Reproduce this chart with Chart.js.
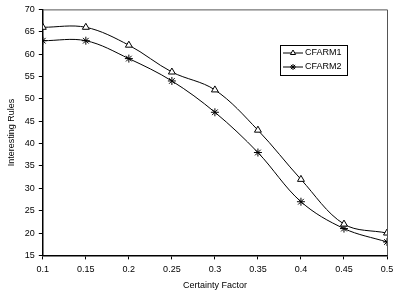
<!DOCTYPE html>
<html>
<head>
<meta charset="utf-8">
<script src="https://cdn.jsdelivr.net/npm/chart.js@4/dist/chart.umd.min.js"></script>
<style>
  html, body { margin: 0; padding: 0; background: #fff; }
  #wrap { width: 393px; height: 297px; }
</style>
</head>
<body>
<div id="wrap"><canvas id="grafico"></canvas></div>
<script>
const certainty = [0.1, 0.15, 0.2, 0.25, 0.3, 0.35, 0.4, 0.45, 0.5];
const cfarm1 = [66, 66, 62, 56, 52, 43, 32, 22, 20];
const cfarm2 = [63, 63, 59, 54, 47, 38, 27, 21, 18];

const ctx = document.getElementById('grafico');

// frame around plot area (top/right) and boxed legend
const moldura = {
    id: 'moldura',
    afterDraw(chart) {
        const c = chart.ctx;
        const a = chart.chartArea;
        c.save();
        c.strokeStyle = '#555';
        c.lineWidth = 1;
        c.beginPath();
        c.moveTo(a.left, a.top + 0.5);
        c.lineTo(a.right + 0.5, a.top + 0.5);
        c.lineTo(a.right + 0.5, a.bottom);
        c.stroke();

        // legend
        const lx = 280, ly = 45, lw = 67, lh = 30;
        c.fillStyle = '#fff';
        c.fillRect(lx, ly, lw, lh);
        c.strokeStyle = '#000';
        c.strokeRect(lx + 0.5, ly + 0.5, lw, lh);
        c.font = '9px "Liberation Sans", Arial, sans-serif';
        c.textBaseline = 'middle';
        chart.data.datasets.forEach((ds, i) => {
            const y = ly + 8 + i * 14;
            c.strokeStyle = '#000';
            c.beginPath();
            c.moveTo(lx + 3, y);
            c.lineTo(lx + 23, y);
            c.stroke();
            Chart.helpers.drawPoint(c, {
                pointStyle: ds.pointStyle,
                radius: 3,
                borderWidth: 1
            }, lx + 13, y);
            c.fillStyle = '#000';
            c.fillText(ds.label, lx + 25, y);
        });
        c.restore();
    }
};

new Chart(ctx, {
    type: 'line',
    data: {
        datasets: [{
            label: 'CFARM1',
            data: certainty.map((x, i) => ({ x: x, y: cfarm1[i] })),
            borderColor: '#000',
            backgroundColor: '#fff',
            borderWidth: 1,
            pointStyle: 'triangle',
            pointRadius: 4,
            pointBorderColor: '#000',
            pointBackgroundColor: '#fff',
            tension: 0.35
        }, {
            label: 'CFARM2',
            data: certainty.map((x, i) => ({ x: x, y: cfarm2[i] })),
            borderColor: '#000',
            backgroundColor: '#fff',
            borderWidth: 1,
            pointStyle: 'star',
            pointRadius: 4,
            pointBorderColor: '#000',
            pointBackgroundColor: '#fff',
            tension: 0.35
        }]
    },
    options: {
        responsive: true,
        maintainAspectRatio: false,
        animation: false,
        layout: { padding: { top: 5, right: 0, left: 6, bottom: 6 } },
        plugins: {
            legend: { display: false },
            tooltip: { enabled: false }
        },
        scales: {
            x: {
                type: 'linear',
                min: 0.1,
                max: 0.5,
                afterFit: scale => { scale.paddingRight = 6; },
                ticks: {
                    stepSize: 0.05,
                    color: '#000',
                    font: { family: '"Liberation Sans", Arial, sans-serif', size: 9 },
                    maxRotation: 0,
                    padding: 5,
                    callback: v => String(Math.round(v * 100) / 100)
                },
                grid: { drawOnChartArea: false, color: '#000', tickLength: 4 },
                border: { color: '#000', width: 1.5 },
                title: {
                    display: true,
                    text: 'Certainty Factor',
                    color: '#000',
                    font: { family: '"Liberation Sans", Arial, sans-serif', size: 9 },
                    padding: { top: 0, bottom: 0 }
                }
            },
            y: {
                min: 15,
                max: 70,
                ticks: {
                    stepSize: 5,
                    color: '#000',
                    font: { family: '"Liberation Sans", Arial, sans-serif', size: 9 },
                    padding: 4
                },
                grid: { drawOnChartArea: false, color: '#000', tickLength: 4 },
                border: { color: '#000', width: 1.5 },
                title: {
                    display: true,
                    text: 'Interesting Rules',
                    color: '#000',
                    font: { family: '"Liberation Sans", Arial, sans-serif', size: 9 },
                    padding: { top: 0, bottom: 4 }
                }
            }
        }
    },
    plugins: [moldura]
});
</script>
</body>
</html>
